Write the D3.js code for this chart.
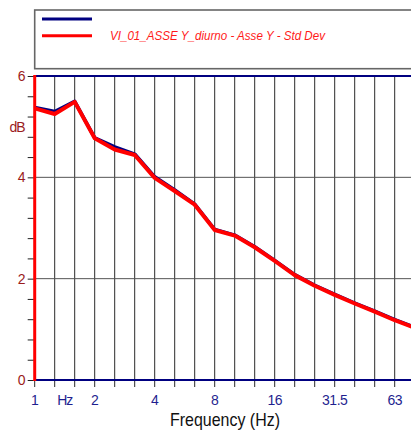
<!DOCTYPE html>
<html>
<head>
<meta charset="utf-8">
<script src="https://cdn.jsdelivr.net/npm/d3@7/dist/d3.min.js"></script>
<style>
  html, body { margin: 0; padding: 0; background: #fff; overflow: hidden; }
  svg { display: block; }
</style>
</head>
<body>
<script>
// One-third octave band centre frequencies (Hz)
const bands = ["1","1.25","1.6","2","2.5","3.15","4","5","6.3","8","10","12.5","16","20","25","31.5","40","50","63","80"];
// Labelled bands on the frequency axis
const xTickLabels = ["1","2","4","8","16","31.5","63"];
// Standard deviation per band (dB)
const seriesBlue = [5.38,5.30,5.50,4.78,4.60,4.46,4.01,3.75,3.47,2.97,2.86,2.63,2.36,2.08,1.87,1.69,1.52,1.36,1.19,1.04];
const seriesRed  = [5.36,5.25,5.49,4.77,4.55,4.44,3.99,3.73,3.46,2.96,2.85,2.62,2.35,2.07,1.86,1.68,1.51,1.35,1.18,1.03];
const yMajor = [0, 2, 4, 6];
const yMinor = d3.range(0, 6.0001, 0.4);
const legendLabel = "VI_01_ASSE Y_diurno - Asse Y - Std Dev";

const W = 411, H = 430;
const plotL = 34.7, plotT = 76, plotB = 380;
const plotR = plotL + 20 * (bands.length - 1);

const svg = d3.select("body").append("svg").attr("width", W).attr("height", H);

const x = d3.scalePoint().domain(bands).range([plotL, plotR]);
const y = d3.scaleLinear().domain([0, 6]).range([plotB, plotT]);

// Legend box
const lg = svg.append("g");
lg.append("rect").attr("x", 34.7).attr("y", 10).attr("width", 420).attr("height", 58.7)
  .attr("fill", "#fff").attr("stroke", "#666").attr("stroke-width", 1.6);
lg.append("line").attr("x1", 42).attr("x2", 92).attr("y1", 19).attr("y2", 19)
  .attr("stroke", "#000080").attr("stroke-width", 3);
lg.append("line").attr("x1", 42).attr("x2", 92).attr("y1", 35.7).attr("y2", 35.7)
  .attr("stroke", "#ff0000").attr("stroke-width", 3);
lg.append("text").attr("x", 110).attr("y", 39.5)
  .attr("font-family", "Liberation Sans, Arial, sans-serif").attr("font-size", 12)
  .attr("font-style", "italic").attr("fill", "#ff1a1a")
  .attr("textLength", 215).attr("lengthAdjust", "spacingAndGlyphs")
  .text(legendLabel);

// Vertical band grid lines with tick extensions below the axis
svg.append("g").selectAll("line").data(bands.slice(1)).join("line")
  .attr("x1", d => x(d)).attr("x2", d => x(d))
  .attr("y1", plotT).attr("y2", plotB + 7)
  .attr("stroke", "#2a2a2a").attr("stroke-width", 1);
svg.append("line").attr("x1", plotL).attr("x2", plotL).attr("y1", plotB).attr("y2", plotB + 7)
  .attr("stroke", "#2a2a2a").attr("stroke-width", 1);

// Horizontal grid lines
svg.append("g").selectAll("line").data(yMajor.filter(v => v > 0 && v < 6)).join("line")
  .attr("x1", plotL).attr("x2", W)
  .attr("y1", d => y(d)).attr("y2", d => y(d))
  .attr("stroke", "#555").attr("stroke-width", 1);

// Y axis ticks and labels
const yAxis = d3.axisLeft(y).tickValues(yMinor).tickSize(7).tickFormat("");
const gy = svg.append("g").attr("transform", `translate(${plotL},0)`).call(yAxis);
gy.select(".domain").remove();
gy.selectAll(".tick line").attr("stroke", "#222").attr("stroke-width", 1);
svg.append("g").selectAll("text").data(yMajor).join("text")
  .attr("x", 25.5).attr("y", d => y(d) + 5)
  .attr("text-anchor", "end")
  .attr("font-family", "Liberation Sans, Arial, sans-serif").attr("font-size", 14)
  .attr("fill", "#9b1c1c").text(d => d);
svg.append("text").attr("x", 24.5).attr("y", 131.5).attr("text-anchor", "end")
  .attr("font-family", "Liberation Sans, Arial, sans-serif").attr("font-size", 14)
  .attr("letter-spacing", -1).attr("fill", "#9b1c1c").text("dB");

// Series lines
const line = d3.line().x((d, i) => x(bands[i])).y(d => y(d));
svg.append("path").datum(seriesBlue).attr("d", line)
  .attr("fill", "none").attr("stroke", "#000080").attr("stroke-width", 3.5)
  .attr("stroke-linejoin", "round");
svg.append("path").datum(seriesRed).attr("d", line)
  .attr("fill", "none").attr("stroke", "#ff0000").attr("stroke-width", 4)
  .attr("stroke-linejoin", "round");

// Plot frame: top and bottom in navy, left axis in red
svg.append("line").attr("x1", plotL).attr("x2", W).attr("y1", plotT).attr("y2", plotT)
  .attr("stroke", "#000080").attr("stroke-width", 2);
svg.append("line").attr("x1", plotL).attr("x2", W).attr("y1", plotB).attr("y2", plotB)
  .attr("stroke", "#000080").attr("stroke-width", 2);
svg.append("line").attr("x1", plotL).attr("x2", plotL).attr("y1", plotT - 1).attr("y2", plotB + 1)
  .attr("stroke", "#ff0000").attr("stroke-width", 3);

// X tick labels
const xl = svg.append("g")
  .attr("font-family", "Liberation Sans, Arial, sans-serif").attr("font-size", 14)
  .attr("fill", "#1f1f8f").attr("text-anchor", "middle");
xl.selectAll("text").data(xTickLabels).join("text")
  .attr("x", d => x(d)).attr("y", 405).attr("letter-spacing", -0.5).text(d => d);
xl.append("text").attr("x", (x("1.25") + x("1.6")) / 2).attr("y", 405)
  .attr("letter-spacing", -1).text("Hz");

// Axis title
svg.append("text").attr("x", 225).attr("y", 426).attr("text-anchor", "middle")
  .attr("font-family", "Liberation Sans, Arial, sans-serif").attr("font-size", 19)
  .attr("fill", "#111").attr("textLength", 110).attr("lengthAdjust", "spacingAndGlyphs")
  .text("Frequency (Hz)");
</script>
</body>
</html>
